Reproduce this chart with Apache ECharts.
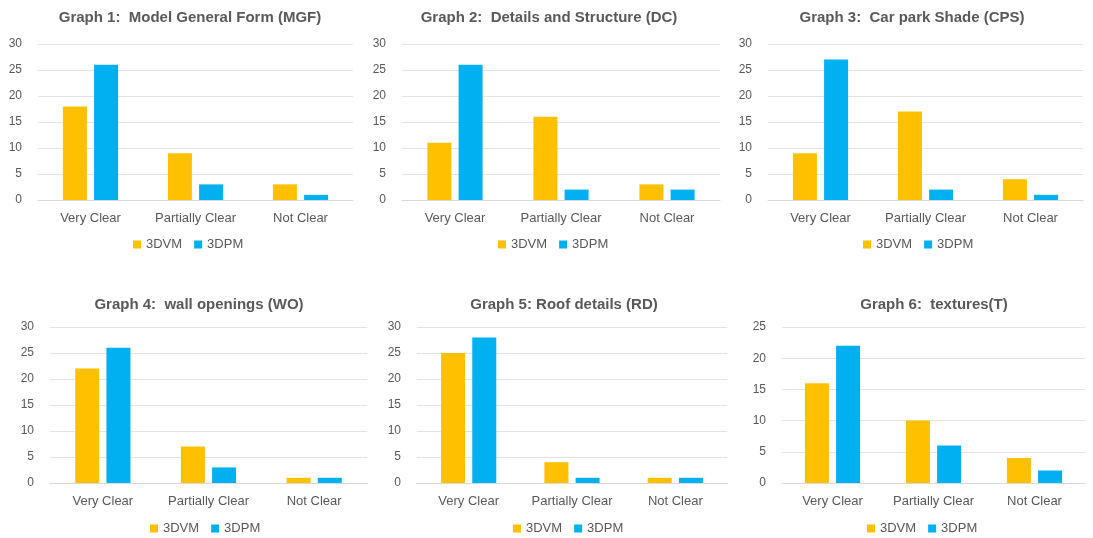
<!DOCTYPE html>
<html>
<head>
<meta charset="utf-8">
<script src="https://cdn.jsdelivr.net/npm/echarts@6/dist/echarts.min.js"></script>
<style>
html, body { margin: 0; padding: 0; background: #fff; }
#chart { width: 1093px; height: 538px; }
</style>
</head>
<body>
<div id="chart"></div>
<script>
var categories = ["Very Clear", "Partially Clear", "Not Clear"];
var seriesNames = ["3DVM", "3DPM"];
var titles = [
	"Graph 1:  Model General Form (MGF)",
	"Graph 2:  Details and Structure (DC)",
	"Graph 3:  Car park Shade (CPS)",
	"Graph 4:  wall openings (WO)",
	"Graph 5: Roof details (RD)",
	"Graph 6:  textures(T)"
];
var vm1 = [18, 9, 3],  pm1 = [26, 3, 1];
var vm2 = [11, 16, 3], pm2 = [26, 2, 2];
var vm3 = [9, 17, 4],  pm3 = [27, 2, 1];
var vm4 = [22, 7, 1],  pm4 = [26, 3, 1];
var vm5 = [25, 4, 1],  pm5 = [28, 1, 1];
var vm6 = [16, 10, 4], pm6 = [22, 6, 2];
var axisMax = [30, 30, 30, 30, 30, 25];

var vmData = [vm1, vm2, vm3, vm4, vm5, vm6];
var pmData = [pm1, pm2, pm3, pm4, pm5, pm6];

// panel layout
var grids = [
	{left: 38,  top: 44,  width: 315, height: 156},
	{left: 402, top: 44,  width: 318, height: 156},
	{left: 768, top: 44,  width: 315, height: 156},
	{left: 50,  top: 327, width: 317, height: 156},
	{left: 417, top: 327, width: 310, height: 156},
	{left: 782, top: 327, width: 303, height: 156}
];
var titlePos = [[190, 10], [549, 10], [912, 10], [199, 297], [564, 297], [934, 297]];
var legendPos = [[133, 238], [498, 238], [863, 238], [150, 522], [513, 522], [867, 522]];

var font = "Liberation Sans";
var textColor = "#595959";
var colors = ["#FFC000", "#00B0F0"];

var option = {
	animation: false,
	color: colors,
	title: [],
	legend: [],
	grid: [],
	xAxis: [],
	yAxis: [],
	series: []
};

for (var i = 0; i < 6; i++) {
	option.title.push({
		text: titles[i],
		left: titlePos[i][0],
		top: titlePos[i][1],
		textAlign: "center",
		padding: 0,
		textStyle: {fontFamily: font, fontSize: 15, fontWeight: "bold", color: textColor}
	});
	option.legend.push({
		data: seriesNames,
		left: legendPos[i][0],
		top: legendPos[i][1],
		padding: 0,
		itemWidth: 8,
		itemHeight: 8,
		itemGap: 12,
		icon: "rect",
		textStyle: {fontFamily: font, fontSize: 13, color: textColor}
	});
	option.grid.push(grids[i]);
	option.xAxis.push({
		type: "category",
		gridIndex: i,
		data: categories,
		axisLine: {lineStyle: {color: "#d9d9d9"}},
		axisTick: {show: false},
		axisLabel: {interval: 0, fontFamily: font, fontSize: 13, color: textColor, margin: 12}
	});
	option.yAxis.push({
		type: "value",
		gridIndex: i,
		min: 0,
		max: axisMax[i],
		interval: 5,
		axisLine: {show: false},
		axisTick: {show: false},
		splitLine: {lineStyle: {color: "#e4e4e4"}},
		axisLabel: {fontFamily: font, fontSize: 12, color: textColor, margin: 16}
	});
	option.series.push({
		name: seriesNames[0],
		type: "bar",
		xAxisIndex: i,
		yAxisIndex: i,
		data: vmData[i],
		barWidth: 24,
		barGap: "30%"
	});
	option.series.push({
		name: seriesNames[1],
		type: "bar",
		xAxisIndex: i,
		yAxisIndex: i,
		data: pmData[i],
		barWidth: 24,
		barGap: "30%"
	});
}

var myChart = echarts.init(document.getElementById("chart"));
myChart.setOption(option);
</script>
</body>
</html>
